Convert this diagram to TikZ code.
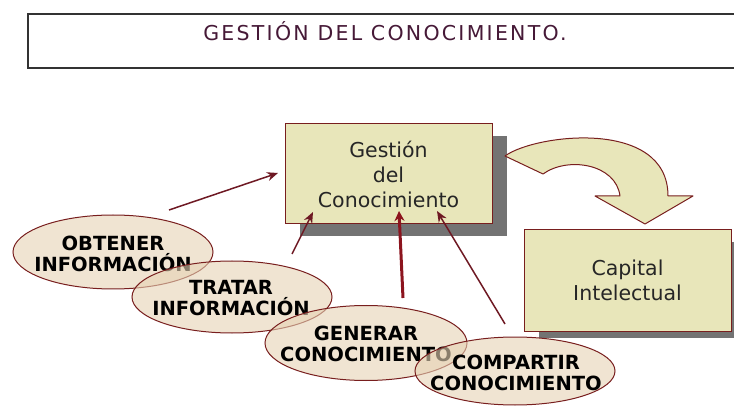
\documentclass[tikz,border=0pt]{standalone}
\usepackage{fontspec}
\setmainfont{DejaVu Sans}
\usetikzlibrary{shapes.geometric,arrows.meta}
\definecolor{boxfill}{RGB}{232,230,186}
\definecolor{ellfill}{RGB}{230,210,180}
\definecolor{edge}{RGB}{120,30,30}
\definecolor{arr}{RGB}{110,25,35}
\definecolor{arrthick}{RGB}{140,20,30}
\definecolor{shade}{RGB}{115,115,115}
\definecolor{titlecol}{RGB}{70,25,55}
\begin{document}
\begin{tikzpicture}[x=1pt,y=-1pt,
  box/.style={draw=edge, line width=1pt, fill=boxfill, align=center,
    font=\fontsize{20.5}{25}\selectfont, text=black!85, inner sep=0pt},
  shadowfill/.style={fill=shade, draw=none},
  ell/.style={ellipse, draw=edge, line width=1pt, fill=ellfill, fill opacity=0.6,
    draw opacity=1, inner sep=0pt},
  elltext/.style={align=center, inner sep=0pt, text=black,
    font=\fontsize{19.5}{21}\selectfont\bfseries},
  link/.style={draw=arr, line width=1.5pt, -{Stealth[length=11pt,width=9pt]}},
  thicklink/.style={draw=arrthick, line width=3pt, -{Stealth[length=10pt,width=10pt]}},
  bigarrow/.style={draw=edge, fill=boxfill, line width=1pt, line join=round},
]
\useasboundingbox (0,0) rectangle (734,406);

% title
\node[draw=black!80, line width=1.2pt, minimum width=717pt, minimum height=54pt, inner sep=0pt] (titlebox) at (386.5,41) {};
\node[text=titlecol, font=\fontsize{20.5}{24}\selectfont\addfontfeatures{LetterSpace=11}] (title) at (385,31) {GESTIÓN DEL CONOCIMIENTO.};

% shadows
\fill[shadowfill] (300,136) rectangle (507,236);
\fill[shadowfill] (539,242) rectangle (750,338);

% boxes
\node[box, minimum width=207pt, minimum height=100pt] (gestion) at (388.5,174) {Gestión\\del\\Conocimiento};
\node[box, minimum width=207pt, minimum height=101pt] (capital) at (627.5,280.5) {Capital\\Intelectual};

% curved block arrow
\filldraw[bigarrow] (505,156) .. controls (535,134) and (668,118) .. (668,196)
  -- (693,196) -- (645,224) -- (595,196) -- (620,196)
  .. controls (616,164) and (568,156) .. (543,174) -- cycle;

% ellipses with their texts
\node[ell, minimum width=200pt, minimum height=74pt] (obt) at (113,252) {};
\node[elltext] (obtt) at (113,253.5) {OBTENER\\INFORMACIÓN};
\node[ell, minimum width=200pt, minimum height=72pt] (tra) at (232,297) {};
\node[elltext] (trat) at (231,298) {TRATAR\\INFORMACIÓN};
\node[ell, minimum width=202pt, minimum height=75pt] (gen) at (366,343) {};
\node[elltext] (gent) at (366,344) {GENERAR\\CONOCIMIENTO};
\node[ell, minimum width=200pt, minimum height=68pt] (com) at (515,371) {};
\node[elltext] (comt) at (516,372.5) {COMPARTIR\\CONOCIMIENTO};

% connectors
\coordinate (t1) at (169,210); \coordinate (h1) at (278,173);
\coordinate (t2) at (292,254); \coordinate (h2) at (313,212);
\coordinate (t3) at (403,298); \coordinate (h3) at (399,211);
\coordinate (t4) at (505,324); \coordinate (h4) at (437,211);
\draw[link] (t1) -- (h1);
\draw[link] (t2) -- (h2);
\draw[thicklink] (t3) -- (h3);
\draw[link] (t4) -- (h4);
\end{tikzpicture}
\end{document}
